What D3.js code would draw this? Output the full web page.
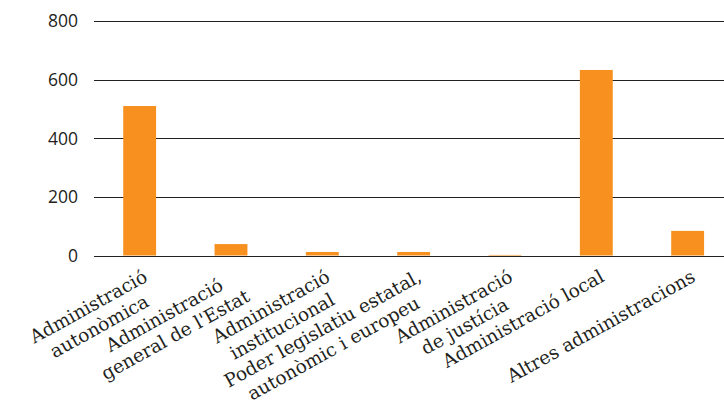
<!DOCTYPE html>
<html>
<head>
<meta charset="utf-8">
<script src="https://cdn.jsdelivr.net/npm/d3@7"></script>
<style>
  html, body { margin: 0; padding: 0; background: #ffffff; }
  svg { display: block; }
</style>
</head>
<body>
<svg id="chart" width="724" height="405"></svg>
<script>
// ---- data ----
const categories = [
  "Administració autonòmica",
  "Administració general de l'Estat",
  "Administració institucional",
  "Poder legislatiu estatal, autonòmic i europeu",
  "Administració de justícia",
  "Administració local",
  "Altres administracions"
];
const categoryLines = [
  ["Administració", "autonòmica"],
  ["Administració", "general de l'Estat"],
  ["Administració", "institucional"],
  ["Poder legislatiu estatal,", "autonòmic i europeu"],
  ["Administració", "de justícia"],
  ["Administració local"],
  ["Altres administracions"]
];
const values = [510, 39, 12, 12, 2, 633, 84];
const yTicks = [0, 200, 400, 600, 800];

// ---- layout ----
const W = 724, H = 405;
const plotLeft = 94, step = 91.33;
const yTop = 21, yBottom = 255.5;
const barColor = "#F7901E";
const inkColor = "#231f20";

const svg = d3.select("#chart");

const x = d3.scaleBand()
  .domain(categories)
  .range([plotLeft, plotLeft + step * categories.length])
  .paddingInner(0.64)
  .paddingOuter(0.32);

const y = d3.scaleLinear().domain([0, 800]).range([yBottom, yTop]);

// gridlines
svg.append("g").selectAll("line")
  .data(yTicks)
  .join("line")
  .attr("x1", plotLeft)
  .attr("x2", W)
  .attr("y1", d => Math.round(y(d)) + 0.5)
  .attr("y2", d => Math.round(y(d)) + 0.5)
  .attr("stroke", inkColor)
  .attr("stroke-width", 1.2);

// y tick labels
svg.append("g").selectAll("text")
  .data(yTicks)
  .join("text")
  .attr("x", 78)
  .attr("y", d => y(d))
  .attr("dy", "0.36em")
  .attr("text-anchor", "end")
  .attr("font-family", "'Open Sans', sans-serif")
  .attr("font-size", 17.5)
  .attr("fill", inkColor)
  .text(d => d);

// bars
svg.append("g").selectAll("rect")
  .data(values)
  .join("rect")
  .attr("x", (d, i) => x(categories[i]))
  .attr("width", x.bandwidth())
  .attr("y", d => y(d))
  .attr("height", d => y(0) - y(d))
  .attr("fill", barColor);

// category labels (rotated, lines centred within block, block right edge at anchor)
const angle = -29, lineH = 22.5;
const labels = svg.append("g").selectAll("g")
  .data(categories)
  .join("g")
  .attr("transform", d => `translate(${x(d) + x.bandwidth() / 2 + 9},${yBottom + 25}) rotate(${angle})`);

labels.each(function(d, i) {
  const g = d3.select(this);
  const lines = categoryLines[i];
  const texts = g.selectAll("text")
    .data(lines)
    .join("text")
    .attr("font-family", "'DejaVu Serif', serif")
    .attr("font-size", 18.5)
    .attr("fill", inkColor)
    .attr("text-anchor", "middle")
    .attr("y", (l, j) => j * lineH)
    .text(l => l);
  let maxW = 0;
  texts.each(function() { maxW = Math.max(maxW, this.getComputedTextLength()); });
  texts.attr("x", -maxW / 2);
});
</script>
</body>
</html>
